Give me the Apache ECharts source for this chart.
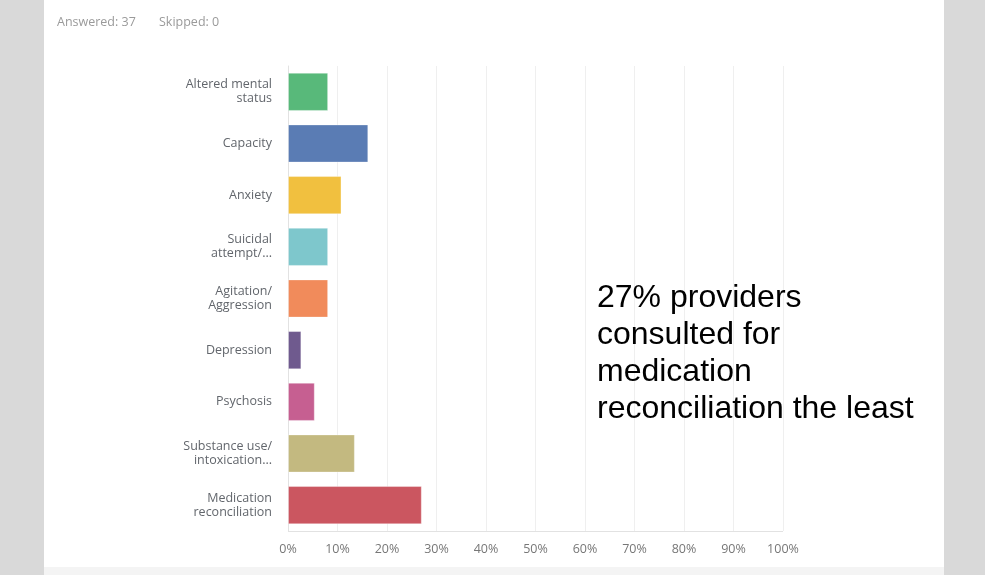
<!DOCTYPE html>
<html>
<head>
<meta charset="utf-8">
<script src="https://cdn.jsdelivr.net/npm/echarts@6/dist/echarts.min.js"></script>
<style>
  html, body { margin: 0; padding: 0; background: #d9d9d9; }
  #chart { width: 985px; height: 575px; }
</style>
</head>
<body>
<div id="chart"></div>
<script>
// Survey question: reasons for psychiatric consultation (share of respondents)
const categories = [
  'Altered mental\nstatus',
  'Capacity',
  'Anxiety',
  'Suicidal\nattempt/...',
  'Agitation/\nAggression',
  'Depression',
  'Psychosis',
  'Substance use/\nintoxication...',
  'Medication\nreconciliation'
];
const percentValues = [8.11, 16.22, 10.81, 8.11, 8.11, 2.70, 5.41, 13.51, 27.03];
const barColors = ['#58b97a', '#5a7cb4', '#f1c03f', '#7ec7cc', '#f18b5b', '#6f5a8e', '#c65f91', '#c3b980', '#cb5660'];
const xTicks = [0, 10, 20, 30, 40, 50, 60, 70, 80, 90, 100];
const answered = 37;
const skipped = 0;

const chart = echarts.init(document.getElementById('chart'));

const highlightIdx = percentValues.indexOf(Math.max(...percentValues));
const noteText = Math.round(percentValues[highlightIdx]) + '% providers\nconsulted for\nmedication\nreconciliation the least';

chart.setOption({
  backgroundColor: '#d9d9d9',
  animation: false,
  graphic: [
    { type: 'rect', z: -10, shape: { x: 44, y: 0, width: 900, height: 575 }, style: { fill: '#f4f4f4' }, silent: true },
    { type: 'rect', z: -9, shape: { x: 44, y: 0, width: 900, height: 567 }, style: { fill: '#ffffff' }, silent: true },
    { type: 'text', z: 100, left: 57, top: 16, style: { text: 'Answered: ' + answered, fill: '#9a9a9a', font: '12.5px "Open Sans", sans-serif' } },
    { type: 'text', z: 100, left: 159, top: 16, style: { text: 'Skipped: ' + skipped, fill: '#9a9a9a', font: '12.5px "Open Sans", sans-serif' } },
    { type: 'text', z: 100, left: 597, top: 280, style: { text: noteText, fill: '#000000', font: '32px "Liberation Sans", Arial, sans-serif', lineHeight: 37 } }
  ],
  grid: { left: 288, right: 202, top: 66, bottom: 44, containLabel: false },
  xAxis: {
    type: 'value',
    min: 0,
    max: 100,
    interval: 10,
    axisLine: { show: false },
    axisTick: { show: false },
    splitLine: { show: true, lineStyle: { color: '#efefef', width: 1 } },
    axisLabel: {
      margin: 12,
      color: '#777777',
      fontSize: 12.5,
      fontFamily: '"Open Sans", sans-serif',
      formatter: v => (xTicks.includes(v) ? v + '%' : '')
    }
  },
  yAxis: {
    type: 'category',
    inverse: true,
    data: categories,
    axisLine: { show: true, lineStyle: { color: '#e2e2e2' } },
    axisTick: { show: false },
    axisLabel: {
      margin: 16,
      color: '#62666c',
      fontSize: 12.5,
      lineHeight: 14,
      fontFamily: '"Open Sans", sans-serif',
      align: 'right'
    }
  },
  series: [{
    type: 'bar',
    data: percentValues.map((v, i) => ({ value: v, itemStyle: { color: barColors[i] } })),
    barCategoryGap: '26%',
    itemStyle: { borderColor: 'rgba(255,255,255,0.35)', borderWidth: 1 },
    silent: true
  }, {
    // bottom rule of the plot area
    type: 'line',
    data: [],
    markLine: {
      silent: true,
      symbol: 'none',
      label: { show: false },
      lineStyle: { color: '#e2e2e2', type: 'solid', width: 1 },
      data: [[{ coord: [0, categories[categories.length - 1]], y: 531 }, { coord: [100, categories[categories.length - 1]], y: 531 }]]
    }
  }]
});
</script>
</body>
</html>
